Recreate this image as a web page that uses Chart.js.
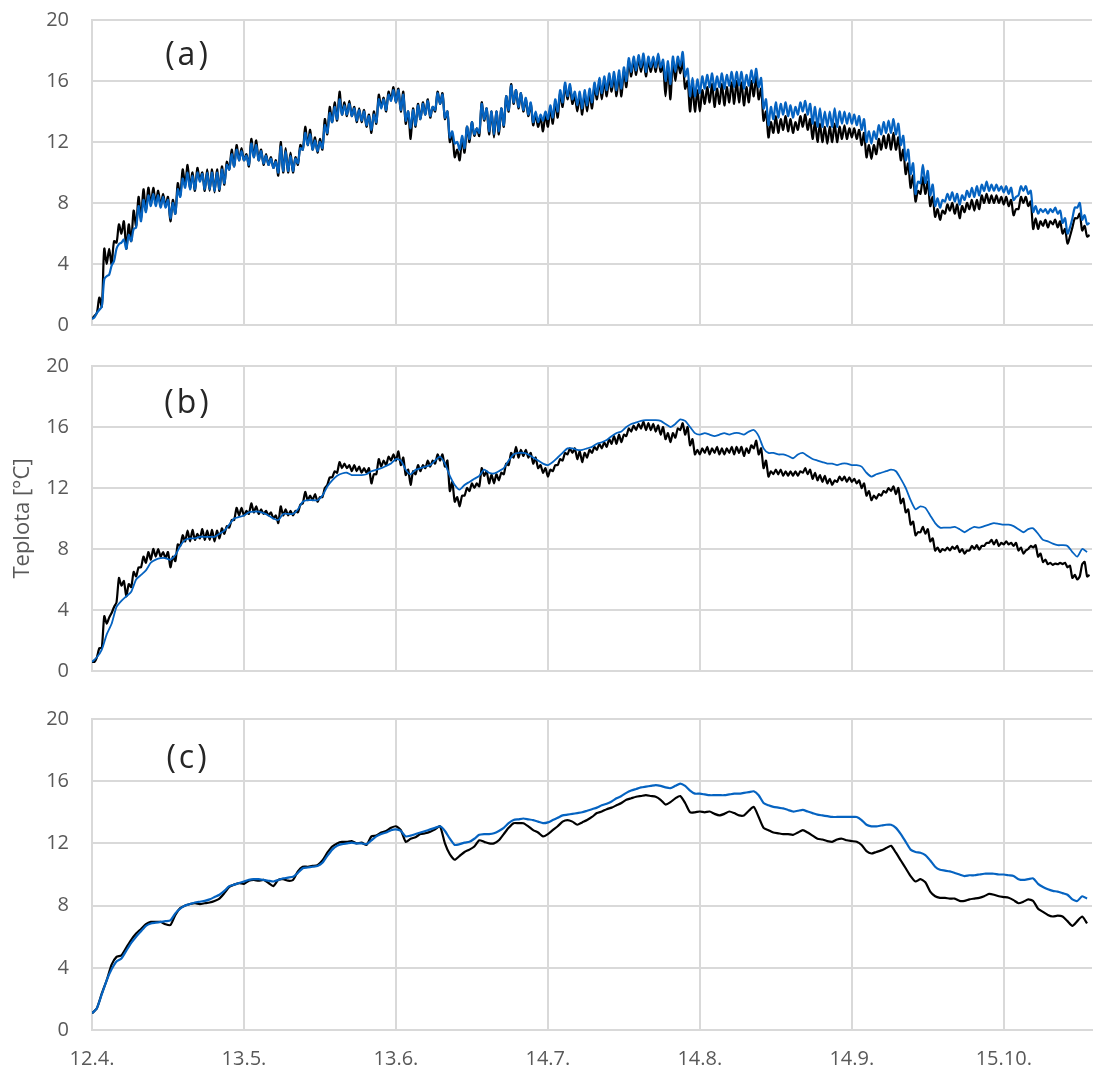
<!DOCTYPE html>
<html>
<head>
<meta charset="utf-8">
<script src="https://cdn.jsdelivr.net/npm/chart.js@4.4.0/dist/chart.umd.min.js"></script>
<style>
  body { margin: 0; background: #fff; overflow: hidden; }
  canvas { position: absolute; left: 0; display: block; }
</style>
</head>
<body>
<canvas id="chartA" width="1094" height="340" style="top:0;width:1094px;height:340px"></canvas>
<canvas id="chartB" width="1094" height="345" style="top:340px;width:1094px;height:345px"></canvas>
<canvas id="chartC" width="1094" height="382" style="top:690px;width:1094px;height:382px"></canvas>
<script>
// x axis: days since 12.4.
const tickDays = [0, 31, 62, 93, 124, 155, 186];
const tickLabels = ['12.4.', '13.5.', '13.6.', '14.7.', '14.8.', '14.9.', '15.10.'];
const yTicks = [0, 4, 8, 12, 16, 20];

// panel (a): daily minima / maxima, one value per day
const aBlackLo = [0.4,0.8,1.2,4.0,4.0,5.4,6.0,5.0,5.5,6.5,
  7.0,7.5,7.9,8.0,7.8,7.8,6.8,7.3,8.5,9.2,
  9.0,8.8,9.5,8.8,8.8,8.7,8.8,9.2,10.2,10.4,
  10.8,10.8,10.4,11.0,10.8,10.5,10.5,10.3,9.8,10.0,
  10.0,10.0,10.5,11.5,11.8,11.5,11.3,11.5,12.5,13.3,
  13.4,13.8,13.7,13.7,13.3,13.3,13.0,12.6,13.2,14.3,
  14.0,14.8,14.6,14.0,13.2,12.2,13.0,13.5,13.8,13.6,
  14.0,14.5,13.5,12.0,11.0,10.8,11.3,12.0,12.4,12.4,
  13.4,12.5,12.3,12.5,13.0,14.0,14.5,14.2,14.0,13.7,
  13.1,13.0,12.7,13.0,13.2,13.6,14.3,14.8,14.5,14.0,
  13.8,14.0,14.2,14.8,14.8,15.0,15.3,15.0,15.0,15.6,
  16.3,16.4,16.6,16.3,16.6,16.6,16.6,15.0,14.8,16.0,
  16.5,15.5,14.0,14.0,14.0,14.5,14.6,14.3,14.5,14.4,
  14.6,14.5,14.6,14.4,14.6,15.0,14.8,13.4,12.3,12.6,
  12.6,12.8,12.7,12.6,12.8,13.0,12.8,12.2,12.0,12.0,
  11.9,12.0,12.0,12.2,12.2,12.3,12.2,11.8,11.0,10.9,
  11.2,11.5,11.6,11.5,11.5,10.8,9.9,9.0,8.1,8.6,
  8.6,7.8,7.1,6.9,7.3,7.5,7.3,7.0,7.4,7.6,
  7.5,7.6,8.0,8.0,8.0,8.0,7.9,7.8,7.2,7.6,
  8.0,7.8,6.3,6.3,6.5,6.4,6.6,6.4,6.0,5.35,
  6.4,7.0,6.2,5.8];
const aBlackHi = [0.6,1.8,5.0,5.0,5.5,6.6,6.8,6.6,7.5,8.4,
  8.9,9.0,9.0,8.8,8.6,8.4,8.2,9.3,10.2,10.5,
  10.0,10.3,10.0,10.2,10.2,10.2,10.4,10.7,11.5,11.8,
  11.6,11.2,12.2,12.1,11.5,11.2,11.0,10.8,12.0,11.6,
  11.3,11.0,11.8,13.0,12.8,12.3,12.2,13.5,14.3,14.6,
  15.3,14.6,14.7,14.3,14.2,14.1,13.8,14.0,15.1,14.9,
  15.3,15.6,15.5,15.3,14.0,14.2,14.5,14.6,14.8,14.3,
  15.3,15.2,14.0,12.5,11.5,12.2,13.0,13.3,12.9,14.6,
  14.2,14.0,14.0,14.2,15.0,15.8,15.4,15.2,14.8,14.5,
  13.8,13.6,13.8,14.2,14.6,15.2,15.7,15.6,15.0,15.0,
  15.2,15.2,15.6,16.0,16.0,16.2,16.3,16.4,16.6,17.3,
  17.4,17.5,17.5,17.3,17.4,17.6,17.0,17.0,17.3,17.3,
  17.3,16.0,15.6,15.4,15.4,15.6,15.8,15.5,15.8,15.6,
  15.9,16.0,15.9,15.6,16.0,16.3,15.5,14.0,13.3,13.7,
  13.5,13.7,13.5,13.3,13.7,13.8,13.5,13.3,13.2,13.0,
  13.0,13.2,13.0,13.1,12.9,12.9,12.8,12.6,11.8,11.8,
  12.2,12.4,12.5,12.6,12.3,11.5,10.6,9.8,8.8,9.7,
  9.4,8.4,7.6,7.5,7.9,8.0,7.9,7.8,8.0,8.2,
  8.2,8.5,8.6,8.5,8.5,8.4,8.4,8.2,7.6,8.4,
  8.4,8.1,7.0,6.8,6.9,6.8,6.9,6.8,6.3,5.8,
  7.0,7.3,6.5,5.9];
const aBlueLo = [0.4,0.8,1.2,3.2,3.9,5.0,5.4,5.0,5.5,6.4,
  6.8,7.4,7.8,7.8,7.7,7.7,7.0,7.3,8.4,9.0,
  8.9,8.9,9.4,8.9,8.9,8.8,8.9,9.3,10.2,10.4,
  10.8,10.8,10.5,11.0,10.8,10.6,10.5,10.3,10.0,10.1,
  10.1,10.1,10.6,11.5,11.8,11.5,11.4,11.6,12.6,13.3,
  13.5,13.8,13.8,13.7,13.4,13.4,13.1,12.8,13.3,14.2,
  14.1,14.7,14.6,14.1,13.4,12.9,13.1,13.5,13.8,13.7,
  14.1,14.5,13.6,12.3,11.9,11.5,11.6,12.2,12.5,12.6,
  13.5,12.7,12.5,12.7,13.1,14.1,14.6,14.3,14.1,13.8,
  13.3,13.3,13.4,13.5,13.6,14.0,14.6,15.0,14.8,14.4,
  14.2,14.4,14.6,15.1,15.2,15.4,15.6,15.4,15.5,16.0,
  16.6,16.7,16.9,16.6,16.9,16.9,16.9,16.0,15.8,16.6,
  17.0,16.3,15.0,15.0,15.2,15.5,15.6,15.4,15.6,15.5,
  15.7,15.6,15.7,15.5,15.7,15.9,15.6,14.2,13.1,13.5,
  13.6,13.8,13.7,13.6,13.8,14.0,13.8,13.2,13.0,13.0,
  13.0,13.0,13.0,13.2,13.2,13.2,13.1,12.8,12.0,11.9,
  12.2,12.5,12.6,12.6,12.5,11.8,10.8,9.9,8.6,9.3,
  9.3,8.5,7.8,7.7,8.1,8.2,8.1,7.9,8.2,8.4,
  8.4,8.5,8.8,8.8,8.8,8.8,8.7,8.6,8.2,8.5,
  8.8,8.6,7.4,7.3,7.4,7.3,7.4,7.3,6.7,6.0,
  7.0,7.7,6.9,6.6];
const aBlueHi = [0.5,1.0,3.0,3.3,4.2,5.3,5.6,5.9,6.3,7.8,
  8.2,8.5,8.6,8.5,8.4,8.2,8.0,8.9,9.6,10.0,
  9.8,10.0,9.9,10.0,10.0,10.0,10.2,10.5,11.2,11.5,
  11.4,11.1,11.9,11.8,11.4,11.1,10.9,10.7,11.7,11.4,
  11.1,10.9,11.6,12.6,12.5,12.1,12.0,13.1,13.9,14.3,
  14.8,14.4,14.5,14.2,14.1,14.0,13.7,13.8,14.8,14.8,
  15.1,15.4,15.4,15.1,14.0,14.1,14.4,14.5,14.7,14.3,
  15.2,15.1,14.0,12.7,12.0,12.4,13.0,13.3,12.9,14.5,
  14.2,14.0,14.0,14.2,15.0,15.7,15.4,15.2,14.9,14.6,
  14.0,13.8,14.0,14.4,14.8,15.4,15.9,15.8,15.3,15.3,
  15.4,15.5,15.9,16.2,16.3,16.5,16.6,16.7,16.9,17.5,
  17.6,17.7,17.8,17.6,17.6,17.8,17.4,17.3,17.6,17.6,
  17.9,16.8,16.2,16.1,16.3,16.4,16.5,16.3,16.5,16.4,
  16.6,16.6,16.6,16.4,16.7,16.8,16.2,14.8,14.3,14.6,
  14.5,14.6,14.4,14.3,14.6,14.7,14.5,14.3,14.2,14.0,
  14.0,14.2,14.0,14.0,13.9,13.8,13.7,13.5,12.7,12.7,
  13.1,13.3,13.4,13.5,13.2,12.4,11.5,10.6,9.4,10.5,
  10.1,9.2,8.3,8.2,8.6,8.7,8.6,8.5,8.8,9.0,
  9.1,9.2,9.4,9.2,9.2,9.1,9.1,9.0,8.4,9.1,
  9.1,8.8,7.8,7.6,7.6,7.6,7.7,7.5,7.0,6.4,
  7.7,8.0,7.2,6.7];

// panel (b)
const bBlackLo = [0.6,0.9,1.5,3.1,3.8,4.5,5.6,4.9,5.5,6.2,
  6.8,7.1,7.3,7.5,7.5,7.4,6.8,7.2,8.2,8.5,
  8.5,8.6,8.7,8.6,8.6,8.5,8.7,9.0,9.4,9.9,
  10.2,10.2,10.3,10.4,10.3,10.3,10.2,10.0,9.7,10.2,
  10.2,10.2,10.4,11.0,11.2,11.2,11.1,11.4,12.2,12.7,
  13.0,13.3,13.3,13.1,13.1,13.0,13.0,12.3,12.9,13.4,
  13.5,13.8,13.8,13.5,12.85,12.2,12.9,13.1,13.3,13.4,
  13.6,13.8,13.4,11.8,11.1,10.8,11.5,11.8,12.0,12.1,
  12.8,12.3,12.3,12.5,12.9,13.5,14.0,14.0,14.1,14.0,
  13.6,13.3,13.0,12.75,13.1,13.5,13.8,14.2,14.3,13.9,
  13.7,14.0,14.3,14.5,14.6,14.7,14.9,14.9,15.0,15.4,
  15.7,15.8,15.9,15.8,15.8,15.7,15.5,15.2,15.0,15.3,
  15.8,15.5,14.8,14.2,14.2,14.3,14.2,14.3,14.2,14.2,
  14.3,14.2,14.3,14.1,14.3,14.6,14.2,13.3,12.75,12.9,
  12.9,12.8,12.8,12.8,12.8,13.0,12.9,12.6,12.5,12.4,
  12.3,12.2,12.4,12.5,12.4,12.4,12.3,12.0,11.5,11.2,
  11.3,11.5,11.7,11.8,11.6,11.0,10.4,9.6,8.9,9.1,
  9.0,8.5,7.9,7.8,7.9,7.9,8.0,7.8,7.7,7.9,
  8.0,7.95,8.2,8.4,8.3,8.2,8.3,8.3,8.2,7.9,
  7.7,8.0,8.1,7.5,7.15,7.0,6.95,7.0,7.0,6.8,
  6.1,6.0,7.0,6.2];
const bBlackHi = [0.6,1.5,3.6,3.5,4.2,6.1,5.9,5.7,6.5,6.8,
  7.5,7.8,8.0,8.0,7.8,7.8,7.5,8.3,8.9,9.2,
  9.25,9.0,9.3,9.2,9.25,9.2,9.35,9.5,9.9,10.7,
  10.7,10.5,11.0,10.8,10.6,10.5,10.4,10.2,10.8,10.6,
  10.5,10.5,10.9,11.75,11.5,11.6,11.4,12.0,12.7,13.1,
  13.7,13.6,13.5,13.5,13.4,13.3,13.3,12.9,13.9,13.8,
  14.05,14.2,14.4,14.0,13.2,13.1,13.5,13.5,13.8,13.8,
  14.2,14.2,13.8,12.4,11.4,11.5,12.0,12.3,12.3,13.3,
  13.1,12.9,12.9,13.0,13.6,14.3,14.7,14.5,14.5,14.3,
  14.0,13.5,13.3,13.2,13.5,13.9,14.3,14.6,14.6,14.4,
  14.3,14.5,14.7,14.9,15.0,15.2,15.4,15.5,15.5,15.9,
  16.1,16.2,16.35,16.25,16.2,16.1,16.0,15.6,15.6,15.9,
  16.25,16.0,15.2,14.5,14.6,14.7,14.6,14.7,14.6,14.6,
  14.7,14.7,14.7,14.6,14.8,15.1,14.6,13.8,13.1,13.2,
  13.2,13.1,13.1,13.1,13.1,13.3,13.2,13.0,12.85,12.8,
  12.6,12.5,12.75,12.75,12.7,12.6,12.5,12.3,11.8,11.5,
  11.6,11.8,12.0,12.1,12.0,11.3,10.6,9.8,9.1,9.45,
  9.3,8.7,8.1,8.0,8.1,8.15,8.2,8.0,7.9,8.2,
  8.25,8.2,8.4,8.6,8.6,8.4,8.5,8.4,8.4,8.1,
  7.9,8.2,8.25,7.7,7.3,7.1,7.05,7.1,7.1,6.9,
  6.3,6.2,7.15,6.3];
const bBlue = [0.6,0.9,1.4,2.4,3.1,4.2,4.6,4.9,5.2,6.0,
  6.3,6.6,7.1,7.3,7.4,7.4,7.3,7.6,8.2,8.6,
  8.7,8.7,8.8,8.8,8.8,8.8,9.0,9.2,9.6,10.0,
  10.1,10.2,10.4,10.45,10.45,10.35,10.2,10.0,9.9,10.3,
  10.3,10.3,10.6,11.1,11.2,11.2,11.2,11.5,12.1,12.5,
  12.8,12.95,13.0,12.85,12.85,12.85,12.9,13.1,13.2,13.3,
  13.45,13.6,13.9,13.8,13.2,12.9,13.2,13.3,13.4,13.5,
  13.8,14.05,13.6,12.8,12.2,11.9,12.2,12.4,12.6,12.8,
  13.2,13.0,12.95,13.1,13.3,13.8,14.2,14.3,14.3,14.2,
  14.0,13.8,13.6,13.5,13.7,14.0,14.3,14.6,14.6,14.5,
  14.5,14.6,14.7,14.9,15.0,15.15,15.4,15.6,15.7,16.0,
  16.2,16.3,16.4,16.45,16.45,16.45,16.4,16.2,16.0,16.2,
  16.5,16.4,16.0,15.6,15.5,15.6,15.5,15.4,15.5,15.6,
  15.5,15.6,15.6,15.5,15.7,15.8,15.4,14.6,14.3,14.3,
  14.2,14.2,14.1,13.95,14.2,14.3,14.1,13.9,13.8,13.7,
  13.6,13.6,13.5,13.6,13.6,13.5,13.5,13.4,13.0,12.75,
  12.9,13.0,13.1,13.2,13.1,12.6,12.0,11.2,10.6,10.8,
  10.7,10.2,9.7,9.4,9.4,9.4,9.45,9.3,9.1,9.3,
  9.45,9.4,9.5,9.6,9.7,9.65,9.6,9.6,9.5,9.3,
  9.1,9.3,9.35,9.0,8.6,8.5,8.35,8.25,8.25,8.2,
  7.8,7.5,8.0,7.8];

// panel (c)
const cBlack = [1.07,1.4,2.35,3.2,4.2,4.7,4.8,5.3,5.8,6.2,
  6.5,6.8,6.95,6.95,6.95,6.8,6.75,7.4,7.85,8.0,
  8.1,8.15,8.1,8.15,8.2,8.3,8.45,8.8,9.2,9.35,
  9.45,9.4,9.6,9.65,9.6,9.65,9.45,9.25,9.65,9.7,
  9.6,9.65,10.2,10.5,10.5,10.55,10.6,10.9,11.4,11.8,
  12.0,12.1,12.1,12.15,12.0,12.05,11.9,12.45,12.5,12.7,
  12.8,13.0,13.1,12.85,12.1,12.3,12.4,12.6,12.65,12.75,
  12.9,13.1,12.0,11.3,10.95,11.2,11.45,11.6,11.8,12.2,
  12.1,12.0,12.0,12.2,12.6,13.0,13.3,13.3,13.3,13.1,
  12.85,12.7,12.45,12.6,12.85,13.1,13.4,13.5,13.4,13.2,
  13.35,13.5,13.7,13.95,14.05,14.2,14.3,14.45,14.6,14.8,
  14.9,15.0,15.05,15.1,15.05,15.0,14.8,14.5,14.65,14.9,
  15.05,14.6,14.0,14.0,14.05,14.0,14.05,13.9,13.8,13.9,
  14.05,13.95,13.8,13.8,14.1,14.35,13.7,13.0,12.85,12.7,
  12.65,12.6,12.6,12.55,12.7,12.85,12.7,12.5,12.3,12.25,
  12.15,12.1,12.25,12.3,12.2,12.15,12.1,11.9,11.5,11.35,
  11.45,11.55,11.7,11.85,11.4,10.9,10.4,9.9,9.55,9.7,
  9.5,8.9,8.6,8.5,8.5,8.45,8.45,8.3,8.3,8.4,
  8.45,8.5,8.6,8.75,8.7,8.6,8.55,8.5,8.35,8.15,
  8.25,8.4,8.3,7.8,7.6,7.4,7.3,7.35,7.3,7.0,
  6.7,7.0,7.3,6.85];
const cBlue = [1.07,1.4,2.3,3.2,3.9,4.4,4.6,5.1,5.6,6.0,
  6.35,6.7,6.85,6.9,6.95,7.0,7.05,7.5,7.8,8.0,
  8.1,8.2,8.25,8.3,8.4,8.55,8.7,8.95,9.25,9.35,
  9.45,9.55,9.65,9.7,9.7,9.65,9.6,9.55,9.65,9.75,
  9.8,9.85,10.1,10.4,10.45,10.5,10.55,10.75,11.2,11.6,
  11.85,11.95,12.0,12.05,12.0,12.0,11.95,12.2,12.45,12.6,
  12.7,12.85,12.9,12.8,12.45,12.5,12.6,12.7,12.8,12.9,
  13.0,13.1,12.8,12.3,11.9,11.95,12.05,12.1,12.3,12.55,
  12.6,12.6,12.65,12.8,13.0,13.3,13.5,13.55,13.6,13.55,
  13.5,13.4,13.3,13.35,13.5,13.65,13.8,13.85,13.9,13.95,
  14.0,14.1,14.2,14.3,14.45,14.55,14.7,14.9,15.05,15.25,
  15.4,15.5,15.6,15.65,15.7,15.75,15.7,15.6,15.55,15.7,
  15.85,15.7,15.4,15.2,15.2,15.15,15.1,15.1,15.1,15.1,
  15.15,15.2,15.2,15.25,15.3,15.35,15.1,14.6,14.45,14.35,
  14.3,14.25,14.15,14.05,14.1,14.15,14.05,13.95,13.85,13.8,
  13.75,13.7,13.7,13.7,13.7,13.7,13.7,13.5,13.2,13.1,
  13.1,13.15,13.2,13.2,13.0,12.6,12.1,11.6,11.45,11.4,
  11.25,10.9,10.5,10.3,10.25,10.2,10.1,10.0,9.9,9.95,
  9.95,10.0,10.05,10.05,10.05,10.0,10.0,9.95,9.9,9.7,
  9.65,9.7,9.75,9.4,9.2,9.05,8.95,8.9,8.8,8.7,
  8.4,8.3,8.6,8.45];

const gridColor = '#d9d9d9';
const textColor = '#595959';
const blue = '#0563C1';
Chart.defaults.font.family = "'Open Sans', sans-serif";

function dailyPoints(values) {
  return values.map((v, i) => ({ x: i, y: v }));
}

// morning low at day start, afternoon high half a day later
function cyclePoints(lo, hi) {
  const pts = [];
  lo.forEach((v, i) => {
    pts.push({ x: i, y: v });
    pts.push({ x: i + 0.5, y: hi[i] });
  });
  return pts;
}

const panelLabel = {
  id: 'panelLabel',
  afterDraw(chart, args, opts) {
    const { ctx, chartArea } = chart;
    ctx.save();
    ctx.font = "32px 'Open Sans', sans-serif";
    ctx.letterSpacing = '3px';
    ctx.fillStyle = '#262626';
    ctx.textAlign = 'center';
    ctx.textBaseline = 'middle';
    ctx.fillText(opts.text, chartArea.left + 96, chartArea.top + opts.dy);
    ctx.restore();
  }
};

function makePanel(id, cfg) {
  return new Chart(document.getElementById(id), {
    type: 'line',
    data: {
      datasets: [
        { data: cfg.blue, borderColor: blue, borderWidth: cfg.blueWidth, pointRadius: 0, tension: cfg.tension, order: 0 },
        { data: cfg.black, borderColor: '#000000', borderWidth: 2.2, pointRadius: 0, tension: cfg.tension, order: 1 }
      ]
    },
    options: {
      animation: false,
      responsive: false,
      layout: { padding: { top: cfg.padTop, right: 2, left: 0, bottom: 0 } },
      plugins: {
        legend: { display: false },
        tooltip: { enabled: false },
        panelLabel: { text: cfg.label, dy: cfg.labelDy }
      },
      scales: {
        x: {
          type: 'linear',
          min: 0,
          max: 204,
          afterBuildTicks: s => { s.ticks = tickDays.map(v => ({ value: v })); },
          afterFit: s => { s.height = cfg.xHeight; },
          grid: { color: gridColor, lineWidth: 2, drawTicks: false },
          border: { color: gridColor, width: 2 },
          ticks: {
            display: cfg.showX,
            autoSkip: false,
            maxRotation: 0,
            padding: 17,
            color: textColor,
            font: { size: 20 },
            callback: v => tickLabels[tickDays.indexOf(v)]
          }
        },
        y: {
          min: 0,
          max: 20,
          afterBuildTicks: s => { s.ticks = yTicks.map(v => ({ value: v })); },
          // fixed axis width, and no extra label padding above/below the plot
          afterFit: s => { s.width = 92; s.paddingTop = 0; s.paddingBottom = 0; },
          grid: { color: gridColor, lineWidth: 2, drawTicks: false },
          border: { color: gridColor, width: 2 },
          ticks: { padding: 23, color: textColor, font: { size: 20 } },
          title: {
            display: cfg.yTitle,
            text: 'Teplota [°C]',
            color: textColor,
            font: { size: 22 },
            padding: { top: 10, bottom: 0 }
          }
        }
      }
    },
    plugins: [panelLabel]
  });
}

makePanel('chartA', {
  black: cyclePoints(aBlackLo, aBlackHi), blue: cyclePoints(aBlueLo, aBlueHi), tension: 0.3,
  blueWidth: 2.2, label: '(a)', labelDy: 36, padTop: 20, xHeight: 15, showX: false, yTitle: false
});
makePanel('chartB', {
  black: cyclePoints(bBlackLo, bBlackHi), blue: dailyPoints(bBlue), tension: 0.2,
  blueWidth: 1.8, label: '(b)', labelDy: 38, padTop: 26, xHeight: 14, showX: false, yTitle: true
});
makePanel('chartC', {
  black: dailyPoints(cBlack), blue: dailyPoints(cBlue), tension: 0.2,
  blueWidth: 2.2, label: '(c)', labelDy: 40, padTop: 29, xHeight: 42, showX: true, yTitle: false
});
</script>
</body>
</html>
